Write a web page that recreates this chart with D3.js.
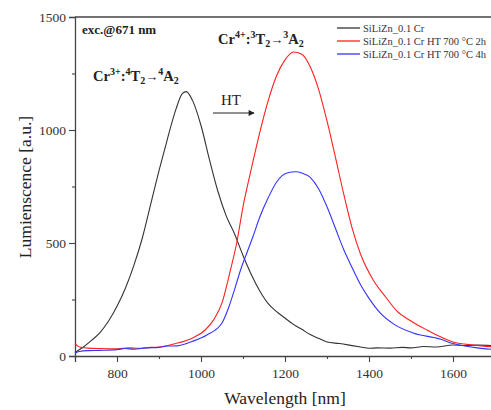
<!DOCTYPE html>
<html>
<head>
<meta charset="utf-8">
<script src="https://cdn.jsdelivr.net/npm/d3@7"></script>
<style>
  body { margin: 0; background: #fff; }
  svg { font-family: "Liberation Serif", "DejaVu Serif", serif; }
</style>
</head>
<body>
<div id="chart"></div>
<script>
// wavelength [nm], luminescence [a.u.]
var blackSeries = [
    [700, 15], [710, 28], [720, 40], [740, 70], [760, 105], [780, 155], [800, 220],
    [820, 300], [840, 400], [860, 520], [880, 670], [900, 820], [920, 960], [940, 1090],
    [955, 1160], [965, 1170], [980, 1130], [1000, 1020], [1020, 870], [1040, 730],
    [1060, 620], [1080, 540], [1100, 445], [1120, 360], [1140, 288], [1160, 232],
    [1180, 196], [1200, 168], [1220, 140], [1240, 118], [1260, 95], [1280, 78],
    [1300, 62], [1330, 55], [1360, 46], [1380, 40], [1400, 34], [1420, 36], [1450, 35],
    [1480, 38], [1500, 36], [1530, 42], [1560, 40], [1600, 49], [1630, 46], [1660, 48],
    [1700, 45]
];
var redSeries = [
    [700, 55], [706, 45], [715, 38], [730, 35], [760, 33], [800, 32], [830, 36],
    [850, 34], [880, 38], [900, 40], [940, 55], [980, 80], [1010, 115], [1030, 160],
    [1050, 235], [1070, 380], [1085, 500], [1100, 660], [1120, 830], [1140, 990],
    [1160, 1130], [1180, 1240], [1200, 1310], [1220, 1345], [1240, 1335], [1260, 1280],
    [1280, 1180], [1300, 1040], [1320, 880], [1340, 715], [1360, 565], [1380, 450],
    [1410, 336], [1440, 260], [1466, 200], [1500, 155], [1538, 115], [1570, 85],
    [1600, 62], [1650, 48], [1700, 40]
];
var blueSeries = [
    [700, 12], [710, 20], [730, 24], [760, 25], [800, 28], [820, 33], [840, 30],
    [870, 36], [900, 38], [920, 44], [943, 45], [980, 65], [1014, 93], [1050, 146],
    [1065, 210], [1080, 295], [1095, 385], [1110, 460], [1124, 530], [1140, 615],
    [1160, 700], [1180, 770], [1205, 810], [1225, 815], [1240, 810], [1260, 790],
    [1280, 740], [1300, 660], [1320, 565], [1340, 470], [1360, 390], [1380, 315],
    [1400, 255], [1426, 192], [1460, 140], [1505, 102], [1569, 75], [1600, 55],
    [1650, 38], [1700, 28]
];
var seriesNames = ["SiLiZn_0.1 Cr", "SiLiZn_0.1 Cr HT 700 \u00b0C 2h", "SiLiZn_0.1 Cr HT 700 \u00b0C 4h"];
var seriesColors = ["#333333", "#ff2020", "#3333ff"];
var xTicks = [800, 1000, 1200, 1400, 1600];
var yTicks = [0, 500, 1000, 1500];

var width = 491, height = 410;
var svg = d3.select('#chart').append('svg')
    .attr('width', width)
    .attr('height', height);

var x = d3.scaleLinear().domain([700, 1700]).range([75, 495]);
var y = d3.scaleLinear().domain([0, 1500]).range([356, 17]);

// axes
svg.append('g')
    .attr('transform', 'translate(0,' + y(0) + ')')
    .call(d3.axisBottom(x).tickValues(xTicks).tickSize(6).tickPadding(6).tickFormat(d3.format('d')));
svg.append('g')
    .attr('transform', 'translate(0,' + y(0) + ')')
    .call(d3.axisBottom(x).tickValues([700, 900, 1100, 1300, 1500, 1700]).tickSize(3).tickFormat(''))
    .select('.domain').remove();

svg.append('g')
    .attr('transform', 'translate(' + x(700) + ',0)')
    .call(d3.axisLeft(y).tickValues(yTicks).tickSize(6).tickPadding(3).tickFormat(d3.format('d')));
svg.append('g')
    .attr('transform', 'translate(' + x(700) + ',0)')
    .call(d3.axisLeft(y).tickValues([250, 750, 1250]).tickSize(3).tickFormat(''))
    .select('.domain').remove();

svg.selectAll('.domain').attr('stroke', '#444').attr('stroke-width', 1.3);
svg.selectAll('.tick line').attr('stroke', '#444').attr('stroke-width', 1.1);
svg.selectAll('.tick text').attr('font-size', 13.5).attr('fill', '#333')
    .attr('font-family', '"Liberation Serif", serif');

// top frame
svg.append('line')
    .attr('x1', x(700)).attr('x2', x(1700))
    .attr('y1', y(1500)).attr('y2', y(1500))
    .attr('stroke', '#444').attr('stroke-width', 1.3);

// curves
var line = d3.line()
    .x(d => x(d[0]))
    .y(d => y(d[1]))
    .curve(d3.curveMonotoneX);

var plot = svg.append('g');
[blackSeries, redSeries, blueSeries].forEach(function(s, i) {
    plot.append('path')
        .attr('d', line(s))
        .attr('fill', 'none')
        .attr('stroke', seriesColors[i])
        .attr('stroke-width', 1.1);
});

// axis titles
svg.append('text')
    .attr('x', 285).attr('y', 404)
    .attr('text-anchor', 'middle')
    .attr('font-size', 17.5)
    .attr('fill', '#222')
    .text('Wavelength [nm]');
svg.append('text')
    .attr('transform', 'translate(31,187) rotate(-90)')
    .attr('text-anchor', 'middle')
    .attr('font-size', 17.5)
    .attr('fill', '#222')
    .text('Lumienscence [a.u.]');

// annotations
svg.append('text')
    .attr('x', 82).attr('y', 34)
    .attr('font-size', 13).attr('font-weight', 'bold').attr('fill', '#222')
    .text('exc.@671 nm');

function transitionLabel(tx, ty, ion, s1, s2) {
    var t = svg.append('text')
        .attr('x', tx).attr('y', ty)
        .attr('font-size', 14.5).attr('font-weight', 'bold').attr('fill', '#222');
    var parts = [
        ['Cr', 0, 14.5], [ion, -6, 10], [':', 6, 14.5], [s1, -6, 10], ['T', 6, 14.5],
        ['2', 3, 10], ['\u2192', -3, 13], [s2, -6, 10], ['A', 6, 14.5], ['2', 3, 10]
    ];
    parts.forEach(function(p) {
        t.append('tspan')
            .attr('dy', p[1])
            .attr('font-size', p[2])
            .attr('font-weight', p[0] === '\u2192' ? 'normal' : 'bold')
            .text(p[0]);
    });
}
transitionLabel(93, 81, '3+', '4', '4');
transitionLabel(218, 44, '4+', '3', '3');

svg.append('text')
    .attr('x', 221).attr('y', 105)
    .attr('font-size', 15).attr('fill', '#222')
    .text('HT');
svg.append('defs').append('marker')
    .attr('id', 'arrow')
    .attr('viewBox', '0 0 10 10')
    .attr('refX', 9).attr('refY', 5)
    .attr('markerWidth', 7).attr('markerHeight', 5)
    .attr('orient', 'auto')
    .append('path').attr('d', 'M0,0 L10,5 L0,10 Z').attr('fill', '#222');
svg.append('line')
    .attr('x1', 213).attr('x2', 254)
    .attr('y1', 113).attr('y2', 113)
    .attr('stroke', '#222').attr('stroke-width', 1.2)
    .attr('marker-end', 'url(#arrow)');

// legend
var legend = svg.append('g').attr('transform', 'translate(337,28)');
seriesNames.forEach(function(name, i) {
    legend.append('line')
        .attr('x1', 0).attr('x2', 23)
        .attr('y1', i * 13).attr('y2', i * 13)
        .attr('stroke', seriesColors[i]).attr('stroke-width', 1.3);
    legend.append('text')
        .attr('x', 26).attr('y', i * 13 + 4)
        .attr('font-size', 10.5).attr('fill', '#333')
        .text(name);
});
</script>
</body>
</html>
